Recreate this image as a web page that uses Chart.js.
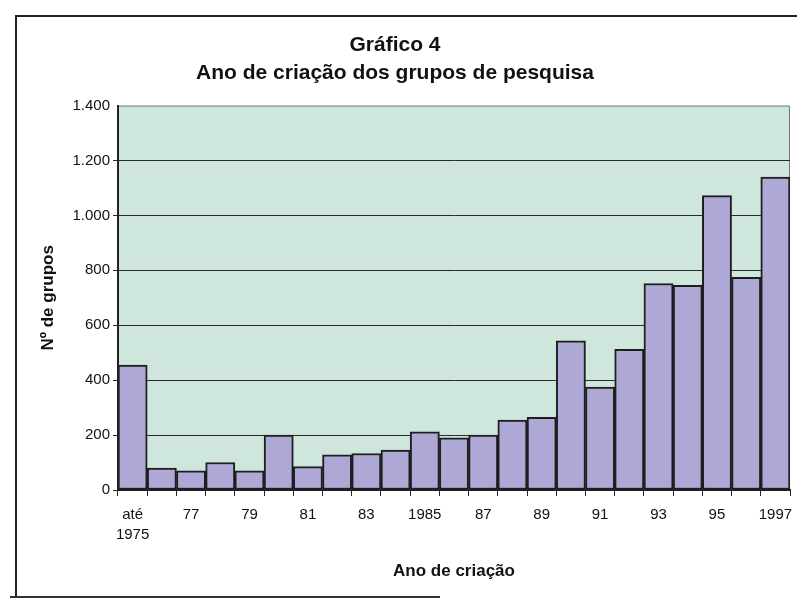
<!DOCTYPE html>
<html>
<head>
<meta charset="utf-8">
<script src="https://cdn.jsdelivr.net/npm/chart.js@4"></script>
<style>
  body { margin: 0; background: #fff; }
  #quadro { position: relative; width: 797px; height: 606px; overflow: hidden; }
  #moldura { position: absolute; left: 15px; top: 15px; width: 820px; height: 581px;
             border-left: 2px solid #222; border-top: 2px solid #222; }
  #base { position: absolute; left: 10px; top: 596px; width: 430px; border-top: 2px solid #333; }
  canvas { position: absolute; left: 0; top: 0; }
</style>
</head>
<body>
<div id="quadro">
  <div id="moldura"></div>
  <div id="base"></div>
  <canvas id="grafico" width="797" height="606"></canvas>
</div>
<script>
// dados
const categorias = ['até 1975', '76', '77', '78', '79', '80', '81', '82', '83', '84', '1985',
  '86', '87', '88', '89', '90', '91', '92', '93', '94', '95', '96', '1997'];
const grupos = [455, 80, 70, 100, 70, 200, 85, 128, 133, 145, 212,
  190, 200, 255, 265, 543, 375, 512, 752, 745, 1072, 775, 1140];
const titulo = ['Gráfico 4', 'Ano de criação dos grupos de pesquisa'];
const tituloY = 'Nº de grupos';
const tituloX = 'Ano de criação';

const fonte = "'Liberation Sans', Arial, sans-serif";

// fundo da área do gráfico
const fundoPlot = {
  id: 'fundoPlot',
  beforeDraw(chart) {
    const { ctx, chartArea: a } = chart;
    ctx.save();
    ctx.fillStyle = '#cfe6dc';
    ctx.fillRect(a.left, a.top, a.right - a.left, a.bottom - a.top);
    ctx.strokeStyle = '#777';
    ctx.lineWidth = 1;
    ctx.beginPath();
    ctx.moveTo(a.left, a.top + 0.5);
    ctx.lineTo(a.right - 0.5, a.top + 0.5);
    ctx.lineTo(a.right - 0.5, a.bottom);
    ctx.stroke();
    ctx.restore();
  }
};

function milhar(v) {
  return String(v).replace(/\B(?=(\d{3})+(?!\d))/g, '.');
}

new Chart(document.getElementById('grafico'), {
  type: 'bar',
  data: {
    labels: categorias,
    datasets: [{
      data: grupos,
      backgroundColor: '#aea8d6',
      borderColor: '#1e1e1e',
      borderWidth: 2,
      borderSkipped: false,
      barPercentage: 1,
      categoryPercentage: 1
    }]
  },
  options: {
    responsive: false,
    animation: false,
    layout: { padding: { left: 0, right: 7, top: 0, bottom: 0 } },
    plugins: {
      legend: { display: false },
      tooltip: { enabled: false },
      title: {
        display: true,
        text: titulo,
        color: '#111',
        font: { family: fonte, size: 21, weight: 'bold', lineHeight: 1.3 },
        padding: { top: 32, bottom: 19 }
      }
    },
    scales: {
      x: {
        afterFit(s) { s.height = 116; s.paddingLeft = 0; s.paddingRight = 0; },
        grid: { offset: true, drawOnChartArea: false, drawTicks: true, tickLength: 6, color: '#222' },
        border: { color: '#222', width: 2 },
        ticks: {
          autoSkip: false, maxRotation: 0, padding: 9, color: '#111',
          font: { family: fonte, size: 15, lineHeight: 1.33 },
          callback(v, i) {
            if (i % 2) return '';
            const t = categorias[i];
            return t.includes(' ') ? t.split(' ') : t;
          }
        },
        title: {
          display: true, text: tituloX, color: '#111',
          font: { family: fonte, size: 17, weight: 'bold', lineHeight: 1.2 },
          padding: { top: 0, bottom: 24 }
        }
      },
      y: {
        min: 0, max: 1400,
        afterFit(s) { s.width = 118; },
        grid: {
          color: ctx => ctx.tick && ctx.tick.value === 1400 ? 'rgba(0,0,0,0)' : '#2a2a2a',
          lineWidth: 1, drawTicks: true, tickLength: 5
        },
        border: { color: '#222', width: 2 },
        ticks: {
          stepSize: 200, padding: 3, color: '#111',
          font: { family: fonte, size: 15 },
          callback: v => milhar(v)
        },
        title: {
          display: true, text: tituloY, color: '#111',
          font: { family: fonte, size: 17, weight: 'bold', lineHeight: 1.2 },
          padding: { top: 38, bottom: 0 }
        }
      }
    }
  },
  plugins: [fundoPlot]
});
</script>
</body>
</html>
